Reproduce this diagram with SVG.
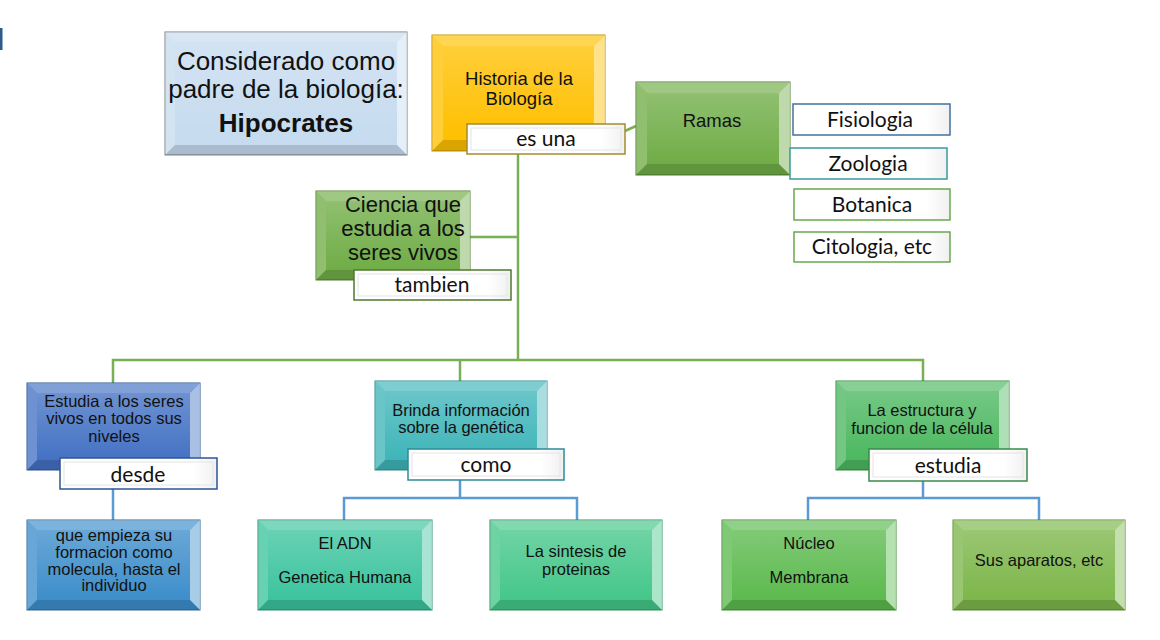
<svg xmlns="http://www.w3.org/2000/svg" width="1160" height="640" viewBox="0 0 1160 640">
<defs>
<linearGradient id="face" x1="0" y1="0" x2="0" y2="1">
<stop offset="0" stop-color="#fff" stop-opacity="0.22"/>
<stop offset="1" stop-color="#fff" stop-opacity="0"/>
</linearGradient>
<linearGradient id="lg" x1="0" y1="0" x2="1" y2="0">
<stop offset="0" stop-color="#ffffff"/>
<stop offset="0.85" stop-color="#ffffff"/>
<stop offset="1" stop-color="#f0f0f0"/>
</linearGradient>
<style>
.bt{fill:#fff;fill-opacity:.33}
.bl{fill:#fff;fill-opacity:.22}
.br{fill:#fff;fill-opacity:.55}
.bb{fill:#000;fill-opacity:.14}
.fc{fill:url(#face)}
.t{font-family:"Liberation Sans",Arial,sans-serif;fill:#111;text-anchor:middle}
.s{font-size:16.5px}
.l{font-family:Lato,"Liberation Sans",sans-serif;font-size:21px;text-anchor:middle;fill:#111}
.lab{fill:url(#lg);stroke-width:1.5}
.in{fill:none;stroke:#e4e4e4;stroke-width:1}
.g{stroke:#78b153;stroke-width:2.5;fill:none}
.c{stroke:#5b9bd5;stroke-width:2.5;fill:none}
</style>
</defs>
<rect width="1160" height="640" fill="#fff"/>
<rect x="0" y="28" width="2.5" height="22" fill="#2e5c8a"/>

<g id="connectors">
<line class="g" x1="625" y1="131" x2="636" y2="126"/>
<line class="g" x1="518" y1="154" x2="518" y2="360"/>
<line class="g" x1="470" y1="237" x2="518" y2="237"/>
<polyline class="g" points="113,383 113,360 923,360 923,381"/>
<line class="g" x1="460" y1="360" x2="460" y2="381"/>
<line class="c" x1="113" y1="489" x2="113" y2="520"/>
<line class="c" x1="460" y1="480" x2="460" y2="498"/>
<polyline class="c" points="344,520 344,498 577,498 577,520"/>
<line class="c" x1="923" y1="481" x2="923" y2="498"/>
<polyline class="c" points="808,520 808,498 1039,498 1039,520"/>
</g>

<g id="hipocrates">
<rect x="165" y="32" width="242" height="123" fill="#c6dbef" stroke="#7f7f7f"/>
<polygon class="bt" points="165,32 407,32 397,42 175,42"/>
<polygon class="bl" points="165,32 175,42 175,145 165,155"/>
<polygon class="br" points="407,32 407,155 397,145 397,42"/>
<polygon class="bb" points="165,155 175,145 397,145 407,155"/>
<rect class="fc" x="175" y="42" width="222" height="103"/>
<text class="t" x="286" y="70" font-size="26">Considerado como</text>
<text class="t" x="286" y="98" font-size="26">padre de la biología:</text>
<text class="t" x="286" y="132" font-size="26" font-weight="bold">Hipocrates</text>
</g>

<g id="historia">
<rect x="432" y="35" width="173" height="116" fill="#ffc000" stroke="#bf9000"/>
<polygon class="bt" points="432,35 605,35 594,46 443,46"/>
<polygon class="bl" points="432,35 443,46 443,140 432,151"/>
<polygon class="br" points="605,35 605,151 594,140 594,46"/>
<polygon class="bb" points="432,151 443,140 594,140 605,151"/>
<rect class="fc" x="443" y="46" width="151" height="94"/>
<text class="t" x="519" y="85" font-size="18.5">Historia de la</text>
<text class="t" x="519" y="105" font-size="18.5">Biología</text>
<rect class="lab" x="467" y="124" width="158" height="30" stroke="#a58b2c"/>
<rect class="in" x="471" y="128" width="150" height="22"/>
<text class="l" x="546" y="146">es una</text>
</g>

<g id="ramas">
<rect x="636" y="82" width="154" height="93" fill="#70ad47" stroke="#507e32"/>
<polygon class="bt" points="636,82 790,82 779,93 647,93"/>
<polygon class="bl" points="636,82 647,93 647,164 636,175"/>
<polygon class="br" points="790,82 790,175 779,164 779,93"/>
<polygon class="bb" points="636,175 647,164 779,164 790,175"/>
<rect class="fc" x="647" y="93" width="132" height="71"/>
<text class="t" x="712" y="127" font-size="18.5">Ramas</text>
</g>

<g id="fisiologia">
<rect class="lab" x="793" y="104" width="157" height="31" stroke="#41719c"/>
<text class="l" x="870" y="127">Fisiologia</text>
</g>
<g id="zoologia">
<rect class="lab" x="790" y="148" width="157" height="31" stroke="#3b9a9a"/>
<text class="l" x="868" y="171">Zoologia</text>
</g>
<g id="botanica">
<rect class="lab" x="794" y="189" width="156" height="31" stroke="#6aa84f"/>
<text class="l" x="872" y="212">Botanica</text>
</g>
<g id="citologia">
<rect class="lab" x="794" y="232" width="156" height="30" stroke="#6aa84f"/>
<text class="l" x="872" y="254">Citologia, etc</text>
</g>

<g id="ciencia">
<rect x="316" y="191" width="154" height="89" fill="#70ad47" stroke="#507e32"/>
<polygon class="bt" points="316,191 470,191 460,201 326,201"/>
<polygon class="bl" points="316,191 326,201 326,270 316,280"/>
<polygon class="br" points="470,191 470,280 460,270 460,201"/>
<polygon class="bb" points="316,280 326,270 460,270 470,280"/>
<rect class="fc" x="326" y="201" width="134" height="69"/>
<text class="t" x="403" y="212" font-size="22">Ciencia que</text>
<text class="t" x="403" y="236" font-size="22">estudia a los</text>
<text class="t" x="403" y="260" font-size="22">seres vivos</text>
<rect class="lab" x="354" y="270" width="157" height="30" stroke="#4f7a2e"/>
<rect class="in" x="358" y="274" width="149" height="22"/>
<text class="l" x="432" y="292">tambien</text>
</g>

<g id="estudia">
<rect x="27" y="383" width="173" height="87" fill="#4472c4" stroke="#2f528f"/>
<polygon class="bt" points="27,383 200,383 190,393 37,393"/>
<polygon class="bl" points="27,383 37,393 37,460 27,470"/>
<polygon class="br" points="200,383 200,470 190,460 190,393"/>
<polygon class="bb" points="27,470 37,460 190,460 200,470"/>
<rect class="fc" x="37" y="393" width="153" height="67"/>
<text class="t s" x="114" y="407">Estudia a los seres</text>
<text class="t s" x="114" y="424">vivos en todos sus</text>
<text class="t s" x="114" y="442">niveles</text>
<rect class="lab" x="60" y="458" width="157" height="31" stroke="#2f5597"/>
<rect class="in" x="64" y="462" width="149" height="23"/>
<text class="l" x="138" y="482">desde</text>
</g>

<g id="brinda">
<rect x="375" y="381" width="172" height="89" fill="#3fb5b9" stroke="#2a8a8e"/>
<polygon class="bt" points="375,381 547,381 537,391 385,391"/>
<polygon class="bl" points="375,381 385,391 385,460 375,470"/>
<polygon class="br" points="547,381 547,470 537,460 537,391"/>
<polygon class="bb" points="375,470 385,460 537,460 547,470"/>
<rect class="fc" x="385" y="391" width="152" height="69"/>
<text class="t s" x="461" y="416">Brinda información</text>
<text class="t s" x="461" y="433">sobre la genética</text>
<rect class="lab" x="408" y="449" width="156" height="31" stroke="#2e8b9a"/>
<rect class="in" x="412" y="453" width="148" height="23"/>
<text class="l" x="486" y="472">como</text>
</g>

<g id="estructura">
<rect x="836" y="381" width="173" height="89" fill="#4cb860" stroke="#2e8b3e"/>
<polygon class="bt" points="836,381 1009,381 999,391 846,391"/>
<polygon class="bl" points="836,381 846,391 846,460 836,470"/>
<polygon class="br" points="1009,381 1009,470 999,460 999,391"/>
<polygon class="bb" points="836,470 846,460 999,460 1009,470"/>
<rect class="fc" x="846" y="391" width="153" height="69"/>
<text class="t s" x="922" y="416">La estructura y</text>
<text class="t s" x="922" y="434">funcion de la célula</text>
<rect class="lab" x="869" y="449" width="158" height="32" stroke="#3a8a4a"/>
<rect class="in" x="873" y="453" width="150" height="24"/>
<text class="l" x="948" y="473">estudia</text>
</g>

<g id="empieza">
<rect x="27" y="520" width="173" height="90" fill="#3d8ecb" stroke="#2c6a99"/>
<polygon class="bt" points="27,520 200,520 190,530 37,530"/>
<polygon class="bl" points="27,520 37,530 37,600 27,610"/>
<polygon class="br" points="200,520 200,610 190,600 190,530"/>
<polygon class="bb" points="27,610 37,600 190,600 200,610"/>
<rect class="fc" x="37" y="530" width="153" height="70"/>
<text class="t s" x="114" y="541">que empieza su</text>
<text class="t s" x="114" y="558">formacion como</text>
<text class="t s" x="114" y="575">molecula, hasta el</text>
<text class="t s" x="114" y="591">individuo</text>
</g>

<g id="adn">
<rect x="258" y="520" width="174" height="90" fill="#3cc49e" stroke="#2a8f72"/>
<polygon class="bt" points="258,520 432,520 422,530 268,530"/>
<polygon class="bl" points="258,520 268,530 268,600 258,610"/>
<polygon class="br" points="432,520 432,610 422,600 422,530"/>
<polygon class="bb" points="258,610 268,600 422,600 432,610"/>
<rect class="fc" x="268" y="530" width="154" height="70"/>
<text class="t s" x="345" y="549">El ADN</text>
<text class="t s" x="345" y="583">Genetica Humana</text>
</g>

<g id="sintesis">
<rect x="490" y="520" width="172" height="90" fill="#45c78a" stroke="#2f9163"/>
<polygon class="bt" points="490,520 662,520 652,530 500,530"/>
<polygon class="bl" points="490,520 500,530 500,600 490,610"/>
<polygon class="br" points="662,520 662,610 652,600 652,530"/>
<polygon class="bb" points="490,610 500,600 652,600 662,610"/>
<rect class="fc" x="500" y="530" width="152" height="70"/>
<text class="t s" x="576" y="557">La sintesis de</text>
<text class="t s" x="576" y="575">proteinas</text>
</g>

<g id="nucleo">
<rect x="722" y="520" width="174" height="90" fill="#5cba4e" stroke="#3f8a34"/>
<polygon class="bt" points="722,520 896,520 886,530 732,530"/>
<polygon class="bl" points="722,520 732,530 732,600 722,610"/>
<polygon class="br" points="896,520 896,610 886,600 886,530"/>
<polygon class="bb" points="722,610 732,600 886,600 896,610"/>
<rect class="fc" x="732" y="530" width="154" height="70"/>
<text class="t s" x="809" y="549">Núcleo</text>
<text class="t s" x="809" y="583">Membrana</text>
</g>

<g id="aparatos">
<rect x="953" y="520" width="172" height="90" fill="#7db64a" stroke="#5a8a30"/>
<polygon class="bt" points="953,520 1125,520 1115,530 963,530"/>
<polygon class="bl" points="953,520 963,530 963,600 953,610"/>
<polygon class="br" points="1125,520 1125,610 1115,600 1115,530"/>
<polygon class="bb" points="953,610 963,600 1115,600 1125,610"/>
<rect class="fc" x="963" y="530" width="152" height="70"/>
<text class="t s" x="1039" y="566">Sus aparatos, etc</text>
</g>
</svg>
